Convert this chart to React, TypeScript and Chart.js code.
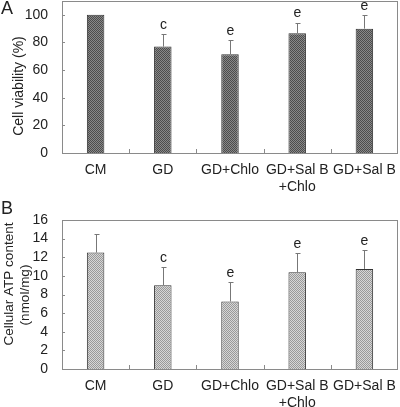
import React, { useEffect, useRef } from "react";
import { Chart, registerables } from "chart.js";
Chart.register(...registerables);

const categories: string[][] = [["CM"], ["GD"], ["GD+Chlo"], ["GD+Sal B", "+Chlo"], ["GD+Sal B"]];
const viability = [100, 77, 71.5, 86.7, 90];
const viabilityErr = [0, 9.2, 10.5, 7.7, 10];
const viabilityMarks = ["", "c", "e", "e", "e"];
const viabilityTicks = [0, 20, 40, 60, 80, 100];
const atp = [12.5, 9, 7.25, 10.4, 10.75];
const atpErr = [2.0, 1.95, 2.05, 2.05, 2.05];
const atpMarks = ["", "c", "e", "e", "e"];
const atpTicks = [0, 2, 4, 6, 8, 10, 12, 14, 16];

const FONT = "'Liberation Sans', Arial, sans-serif";

function makePattern(dark: string, light: string) {
  const c = document.createElement("canvas");
  c.width = 2;
  c.height = 2;
  const g = c.getContext("2d")!;
  g.fillStyle = light;
  g.fillRect(0, 0, 2, 2);
  g.fillStyle = dark;
  g.fillRect(0, 0, 1, 1);
  g.fillRect(1, 1, 1, 1);
  return g.createPattern(c, "repeat")!;
}

type PanelCfg = {
  values: number[];
  errors: number[];
  marks: string[];
  max: number;
  tickValues: number[];
  titleLines: string[];
  titleFont: number;
  titleX: number[];
  titleY: number[];
  panel: string;
  topPad: number;
  xAxisHeight: number;
  dark: string;
  light: string;
};

function makeChart(canvas: HTMLCanvasElement, cfg: PanelCfg) {
  const pattern = makePattern(cfg.dark, cfg.light);
  const overlay = {
    id: "overlay",
    afterDatasetsDraw(chart: any) {
      const ctx = chart.ctx as CanvasRenderingContext2D;
      const x = chart.scales.x;
      const y = chart.scales.y;
      const area = chart.chartArea;
      ctx.save();
      ctx.strokeStyle = "#8a8a8a";
      ctx.lineWidth = 1;
      ctx.strokeRect(Math.round(area.left) + 0.5, Math.round(area.top) + 0.5, Math.round(area.right - area.left) - 1, Math.round(area.bottom - area.top));
      for (const t of y.ticks) {
        const py = Math.round(y.getPixelForValue(t.value)) + 0.5;
        ctx.beginPath();
        ctx.moveTo(area.left, py);
        ctx.lineTo(area.left + 3, py);
        ctx.stroke();
      }
      for (let i = 0; i < cfg.values.length - 1; i++) {
        const px = Math.round((x.getPixelForValue(i) + x.getPixelForValue(i + 1)) / 2) + 0.5;
        ctx.beginPath();
        ctx.moveTo(px, area.bottom);
        ctx.lineTo(px, area.bottom - 4);
        ctx.stroke();
      }
      ctx.strokeStyle = "#777";
      ctx.fillStyle = "#222";
      ctx.font = `14px ${FONT}`;
      ctx.textAlign = "center";
      ctx.textBaseline = "bottom";
      cfg.values.forEach((v, i) => {
        const px = Math.round(x.getPixelForValue(i)) + 0.5;
        const top = y.getPixelForValue(v);
        const et = y.getPixelForValue(v + cfg.errors[i]);
        if (cfg.errors[i] > 0) {
          ctx.beginPath();
          ctx.moveTo(px, top);
          ctx.lineTo(px, Math.round(et) + 0.5);
          ctx.moveTo(px - 2, Math.round(et) + 0.5);
          ctx.lineTo(px + 3, Math.round(et) + 0.5);
          ctx.stroke();
        }
        if (cfg.marks[i]) ctx.fillText(cfg.marks[i], px, et - 2);
      });
      ctx.fillStyle = "#222";
      ctx.font = `${cfg.titleFont}px ${FONT}`;
      ctx.textBaseline = "middle";
      cfg.titleLines.forEach((line, k) => {
        ctx.save();
        ctx.translate(cfg.titleX[k], cfg.titleY[k]);
        ctx.rotate(-Math.PI / 2);
        ctx.fillText(line, 0, 0);
        ctx.restore();
      });
      ctx.font = `18px ${FONT}`;
      ctx.textAlign = "left";
      ctx.textBaseline = "top";
      ctx.fillText(cfg.panel, 1, 0);
      ctx.restore();
    },
  };

  return new Chart(canvas, {
    type: "bar",
    data: {
      labels: categories,
      datasets: [
        {
          data: cfg.values,
          backgroundColor: pattern as any,
          borderColor: "#333",
          borderWidth: 1,
          categoryPercentage: 1,
          barPercentage: 0.26,
        },
      ],
    },
    options: {
      responsive: false,
      animation: false,
      devicePixelRatio: 1,
      layout: { padding: { top: cfg.topPad, right: 2, left: 0, bottom: 0 } },
      plugins: { legend: { display: false }, tooltip: { enabled: false } },
      scales: {
        x: {
          grid: { display: false },
          border: { display: false },
          ticks: {
            color: "#222",
            font: { family: FONT, size: 14, lineHeight: 1.2 },
            padding: 1,
            maxRotation: 0,
            autoSkip: false,
          },
          afterFit: (s: any) => {
            s.height = cfg.xAxisHeight;
            s.paddingLeft = 0;
            s.paddingRight = 0;
          },
        },
        y: {
          min: 0,
          max: cfg.max,
          grid: { display: false },
          border: { display: false },
          ticks: {
            autoSkip: false,
            color: "#222",
            font: { family: FONT, size: 14 },
            padding: 6,
          },
          afterBuildTicks: (s: any) => {
            s.ticks = cfg.tickValues.map((v) => ({ value: v }));
          },
          afterFit: (s: any) => {
            s.width = 62;
            s.paddingTop = 0;
            s.paddingBottom = 0;
          },
        },
      },
    },
    plugins: [overlay],
  });
}

export default function App() {
  const refA = useRef<HTMLCanvasElement>(null);
  const refB = useRef<HTMLCanvasElement>(null);
  useEffect(() => {
    const a = makeChart(refA.current!, {
      values: viability,
      errors: viabilityErr,
      marks: viabilityMarks,
      max: 110,
      tickValues: viabilityTicks,
      titleLines: ["Cell viability (%)"],
      titleFont: 14,
      titleX: [19],
      titleY: [86],
      panel: "A",
      topPad: 1,
      xAxisHeight: 47,
      dark: "#4c4c4c",
      light: "#888888",
    });
    const b = makeChart(refB.current!, {
      values: atp,
      errors: atpErr,
      marks: atpMarks,
      max: 16,
      tickValues: atpTicks,
      titleLines: ["Cellular ATP content", "(nmol/mg)"],
      titleFont: 13.5,
      titleX: [9, 25],
      titleY: [84, 95],
      panel: "B",
      topPad: 20,
      xAxisHeight: 38,
      dark: "#999999",
      light: "#d6d6d6",
    });
    return () => {
      a.destroy();
      b.destroy();
    };
  }, []);
  return (
    <div style={{ position: "absolute", left: 0, top: 0, width: 400, height: 407, background: "#fff" }}>
      <canvas ref={refA} width={400} height={200} style={{ display: "block", width: 400, height: 200 }} />
      <canvas ref={refB} width={400} height={207} style={{ display: "block", width: 400, height: 207 }} />
    </div>
  );
}
